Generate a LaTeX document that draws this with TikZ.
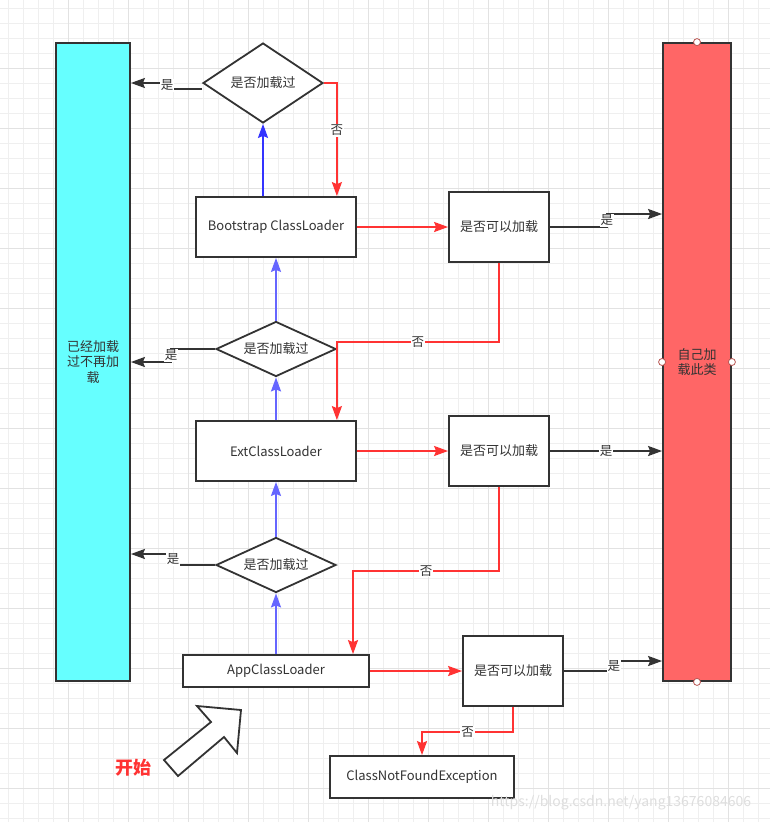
\documentclass[tikz,border=0pt]{standalone}
\usepackage{fontspec}
\newfontfamily\cjk{Noto Sans CJK SC}
\usetikzlibrary{calc}
\usetikzlibrary{arrows.meta}
\usetikzlibrary{positioning, shapes.geometric}

\definecolor{lineg}{HTML}{333333}
\definecolor{redline}{HTML}{FF3333}
\definecolor{blueA}{HTML}{3333FF}
\definecolor{blueB}{HTML}{6666FF}
\definecolor{cyanf}{HTML}{66FFFF}
\definecolor{redf}{HTML}{FF6666}
\definecolor{gridminor}{HTML}{EFEFEF}
\definecolor{gridmajor}{HTML}{E2E2E2}
\definecolor{handle}{HTML}{B85450}

\tikzset{
  box/.style={rectangle, draw=lineg, line width=1.8pt, fill=white, inner sep=0pt, align=center},
  decide/.style={diamond, draw=lineg, line width=1.8pt, fill=white, inner sep=0pt},
  lbl/.style={fill=white, inner sep=1pt, text=lineg, font=\cjk\fontsize{12.5}{14}\selectfont},
  tip/.style={-{Stealth[length=14pt,width=10pt,inset=2pt]}}
}

\begin{document}
\begin{tikzpicture}[x=1pt, y=-1pt, font=\cjk\fontsize{13}{15.5}\selectfont, text=lineg]

    % page and grid
    \useasboundingbox (0,0) rectangle (770,822);
    \fill[white] (0,0) rectangle (770,822);
    \foreach \g in {8,23,...,768} \draw[gridminor, line width=1pt] (\g,0) -- (\g,822);
    \foreach \g in {8,23,...,818} \draw[gridminor, line width=1pt] (0,\g) -- (770,\g);
    \foreach \g in {68,128,...,768} \draw[gridmajor, line width=1pt] (\g,0) -- (\g,822);
    \foreach \g in {68,128,...,818} \draw[gridmajor, line width=1pt] (0,\g) -- (770,\g);

    % Add or remove nodes here, use the tuple for location
    \begin{scope}[every node/.style={box}]
    \node[fill=cyanf, minimum width=74pt, minimum height=638pt] (loaded) at (93,362) {已经加载\\过不再加\\载};
    \node[fill=redf, minimum width=68pt, minimum height=638pt] (self) at (697,362) {自己加\\载此类};
    \node[minimum width=160pt, minimum height=60pt] (boot) at (276,227) {Bootstrap ClassLoader};
    \node[minimum width=160pt, minimum height=60pt] (ext) at (276,451) {ExtClassLoader};
    \node[minimum width=186pt, minimum height=32pt] (app) at (276,671) {AppClassLoader};
    \node[minimum width=100pt, minimum height=70pt] (chk1) at (499,227) {是否可以加载};
    \node[minimum width=100pt, minimum height=70pt] (chk2) at (499,451) {是否可以加载};
    \node[minimum width=100pt, minimum height=70pt] (chk3) at (513,671) {是否可以加载};
    \node[minimum width=184pt, minimum height=42pt] (cnf) at (422,777) {ClassNotFoundException};
    \end{scope}

    \begin{scope}[every node/.style={decide}]
    \node[minimum width=120pt, minimum height=80pt, aspect=1.5] (d1) at (263,83) {是否加载过};
    \node[minimum width=120pt, minimum height=55pt, aspect=2.2] (d2) at (276,349) {是否加载过};
    \node[minimum width=120pt, minimum height=55pt, aspect=2.2] (d3) at (276,565) {是否加载过};
    \end{scope}

    % connection handles on the red box
    \foreach \a in {north, south, east, west}
        \draw[handle, fill=white, line width=0.8pt] (self.\a) circle (3.5);

    % start marker
    \draw[lineg, fill=white, line width=1.8pt, line join=miter]
        (241,710) -- (197,706) -- (211,722) -- (164,760) -- (178,776) -- (224,737) -- (237,753) -- cycle;
    \node[text=redline, font=\cjk\bfseries\fontsize{18}{20}\selectfont] (start) at (133,768) {开始};

    % blue: going up to the parent loader
    \begin{scope}[every edge/.style={draw=blueB, line width=1.8pt, tip}]
    \path ([xshift=-13pt]boot.north) edge[draw=blueA] (d1.south);
    \path (d2) edge (boot);
    \path (ext) edge (d2);
    \path (d3) edge (ext);
    \path (app) edge (d3);
    \end{scope}

    % red: try to load it or fall back
    \begin{scope}[every edge/.style={draw=redline, line width=1.8pt, tip}]
    \path (boot) edge (chk1);
    \path (ext) edge (chk2);
    \path (app) edge (chk3);
    \end{scope}
    \begin{scope}[redline, line width=1.8pt]
    \draw[tip] (d1.east) -| ([xshift=-20pt]boot.north east) node[lbl, pos=0.71] {否};
    \draw[tip] (chk1.south) -- ++(0,79) -| ([xshift=-20pt]ext.north east) node[lbl, pos=0.25] {否};
    \draw[tip] (chk2.south) -- ++(0,84) -| ([xshift=77pt]app.north) node[lbl, pos=0.25] {否};
    \draw[tip] (chk3.south) -- ++(0,25) -| (cnf.north) node[lbl, pos=0.25] {否};
    \end{scope}

    % black: yes
    \begin{scope}[lineg, line width=1.8pt]
    \draw[tip] ([yshift=-6pt]d1.west) -- ++(-35,0) coordinate (y1) |- (loaded.east |- d1.west);
    \draw[tip] (d2.west) -- ++(-44,0) coordinate (y2) |- ([yshift=-13pt]loaded.east |- d2.west);
    \draw[tip] (d3.west) -- ++(-42,0) coordinate (y3) |- ([yshift=11pt]loaded.east |- d3.west);
    \draw[tip] (chk1.east) -- ++(57,0) coordinate (y4) |- ([yshift=13pt]self.west |- chk1.east);
    \draw[tip] (chk2.east) -- (self.west |- chk2.east) node[lbl, midway] {是};
    \draw[tip] (chk3.east) -- ++(50,0) coordinate (y6) |- ([yshift=10pt]self.west |- chk3.east);
    \end{scope}
    \node[lbl] at ([yshift=3.5pt]y1) {是};
    \node[lbl] at ([yshift=-6pt]y2) {是};
    \node[lbl] at ([yshift=5.5pt]y3) {是};
    \node[lbl] at ([yshift=6.5pt]y4) {是};
    \node[lbl] at ([yshift=5pt]y6) {是};

    % watermark
    \node[text=black!13, font=\cjk\fontsize{14}{16}\selectfont] (mark) at (621,803) {https://blog.csdn.net/yang13676084606};

\end{tikzpicture}
\end{document}
